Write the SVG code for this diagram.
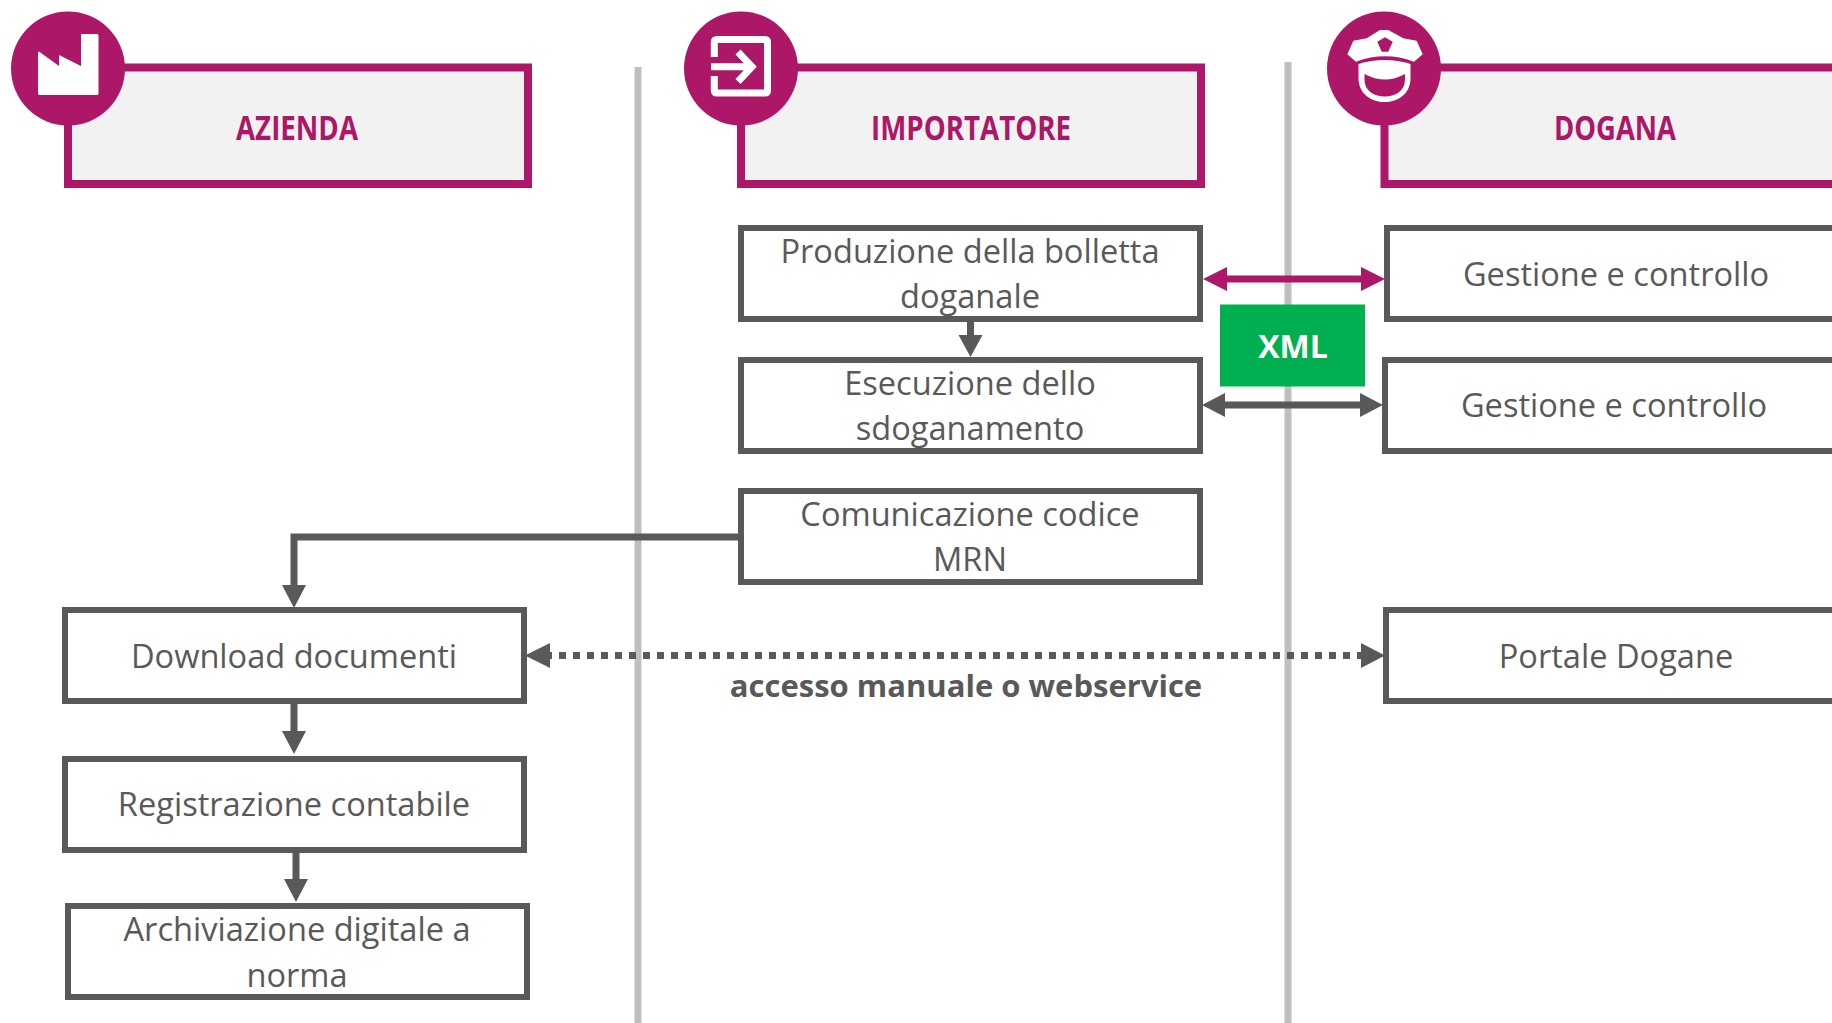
<svg xmlns="http://www.w3.org/2000/svg" width="1832" height="1023" viewBox="0 0 1832 1023">
<style>
.hd{fill:#f2f2f2;stroke:#ad1767;stroke-width:8}
.hc{fill:#ad1767}
.ht{fill:#ad1767;font:bold 34px "Open Sans",sans-serif;text-anchor:middle}
.bx{fill:#fff;stroke:#595959;stroke-width:6}
.t{fill:#595959;font:32.6px "Open Sans",sans-serif;text-anchor:middle}
.sep{stroke:#bfbfbf;stroke-width:7;fill:none}
.g{stroke:#595959;stroke-width:7;fill:none}
.m{stroke:#ad1767;stroke-width:7;fill:none}
.gf{fill:#595959}
.mf{fill:#ad1767}
.ic{fill:#fff}
.is{fill:none;stroke:#fff;stroke-width:7}
</style>
<g id="separators">
<line class="sep" x1="638" y1="67" x2="638" y2="1023"/>
<line class="sep" x1="1288" y1="62" x2="1288" y2="1023"/>
</g>
<g id="azienda">
<rect class="hd" x="68" y="67.500" width="460" height="116.500"/>
<circle class="hc" cx="68" cy="68.500" r="57"/>
<path class="ic" d="M39 51.500L59 66V55L81 66V34H97Q98.500 34 98.500 35.500V93.500Q98.500 95 97 95H39.500Q38 95 38 93.500V52Z"/>
<text class="ht" x="297" y="140" textLength="122" lengthAdjust="spacingAndGlyphs">AZIENDA</text>
</g>
<g id="importatore">
<rect class="hd" x="741" y="67.500" width="460" height="116.500"/>
<circle class="hc" cx="741" cy="68.500" r="57"/>
<path class="is" d="M714.300 57V42Q714.300 39.500 717 39.500H765Q767.500 39.500 767.500 42V90.500Q767.500 93 765 93H717Q714.300 93 714.300 90.500V76"/>
<path class="is" d="M711 66.700H750M738 52L752 66.700L738 81.500"/>
<text class="ht" x="971" y="140" textLength="200" lengthAdjust="spacingAndGlyphs">IMPORTATORE</text>
</g>
<g id="dogana">
<rect class="hd" x="1384.500" y="67.500" width="470" height="116.500"/>
<circle class="hc" cx="1384" cy="68.500" r="57"/>
<path class="ic" d="M1347.300 54.300L1353.300 40.700L1366.700 38.300L1380 30H1388.300L1403.300 38.300L1416.700 40.700L1422.700 54.300L1414 61.700Q1385 51 1356 61.700Z"/>
<path class="hc" d="M1377.300 41.700L1385 37.300L1392.700 41.700L1388.300 51.700H1381.700Z"/>
<path class="ic" d="M1358.500 64Q1385 56 1410.500 64V78C1410.500 110 1358.500 110 1358.500 78Z"/>
<path class="hc" d="M1364.500 74Q1385 85 1405 74V80C1405 102 1364.500 102 1364.500 80Z"/>
<text class="ht" x="1615" y="140" textLength="122" lengthAdjust="spacingAndGlyphs">DOGANA</text>
</g>
<g id="connectors">
<line class="m" x1="1215" y1="279" x2="1370" y2="279"/>
<polygon class="mf" points="1203,279 1227,267 1227,291"/>
<polygon class="mf" points="1385,279 1361,267 1361,291"/>
<line class="g" x1="1215" y1="405" x2="1370" y2="405"/>
<polygon class="gf" points="1202,405 1225,393 1225,417"/>
<polygon class="gf" points="1383,405 1360,393 1360,417"/>
<line class="g" x1="970.500" y1="321" x2="970.500" y2="345"/>
<polygon class="gf" points="970.500,357 958.500,335 982.500,335"/>
<path class="g" d="M738 537H294V595"/>
<polygon class="gf" points="294,608 282,585 306,585"/>
<line class="g" x1="294" y1="702" x2="294" y2="735"/>
<polygon class="gf" points="294,754 282,731 306,731"/>
<line class="g" x1="296" y1="852" x2="296" y2="885"/>
<polygon class="gf" points="296,902 284,879 308,879"/>
<line class="g" x1="545" y1="655.500" x2="1365" y2="655.500" stroke-dasharray="7 7"/>
<polygon class="gf" points="525,655.500 550,643 550,668"/>
<polygon class="gf" points="1385,655.500 1361,643 1361,668"/>
</g>
<g id="xml">
<rect x="1220" y="304.500" width="145" height="82" fill="#00b050"/>
<text x="1293" y="358" fill="#fff" style="font:bold 32px 'Open Sans',sans-serif" text-anchor="middle">XML</text>
</g>
<g id="produzione"><rect class="bx" x="741" y="228" width="459" height="91"/><text class="t" x="970" y="263">Produzione della bolletta</text><text class="t" x="970" y="308">doganale</text></g>
<g id="esecuzione"><rect class="bx" x="741" y="360" width="459" height="91"/><text class="t" x="970" y="395">Esecuzione dello</text><text class="t" x="970" y="440">sdoganamento</text></g>
<g id="comunicazione"><rect class="bx" x="741" y="491" width="459" height="91"/><text class="t" x="970" y="526">Comunicazione codice</text><text class="t" x="970" y="571">MRN</text></g>
<g id="gestione1"><rect class="bx" x="1387" y="228" width="460" height="91"/><text class="t" x="1616" y="286">Gestione e controllo</text></g>
<g id="gestione2"><rect class="bx" x="1385" y="360" width="460" height="91"/><text class="t" x="1614" y="417">Gestione e controllo</text></g>
<g id="portale"><rect class="bx" x="1386" y="610" width="460" height="91"/><text class="t" x="1616" y="668">Portale Dogane</text></g>
<g id="download"><rect class="bx" x="65" y="610" width="459" height="91"/><text class="t" x="294" y="668">Download documenti</text></g>
<g id="registrazione"><rect class="bx" x="65" y="759" width="459" height="91"/><text class="t" x="294" y="816">Registrazione contabile</text></g>
<g id="archiviazione"><rect class="bx" x="68" y="906" width="459" height="91"/><text class="t" x="297" y="941">Archiviazione digitale a</text><text class="t" x="297" y="987">norma</text></g>
<text id="label" x="966" y="697" fill="#595959" style="font:bold 31px 'Open Sans',sans-serif" text-anchor="middle">accesso manuale o webservice</text>
</svg>
